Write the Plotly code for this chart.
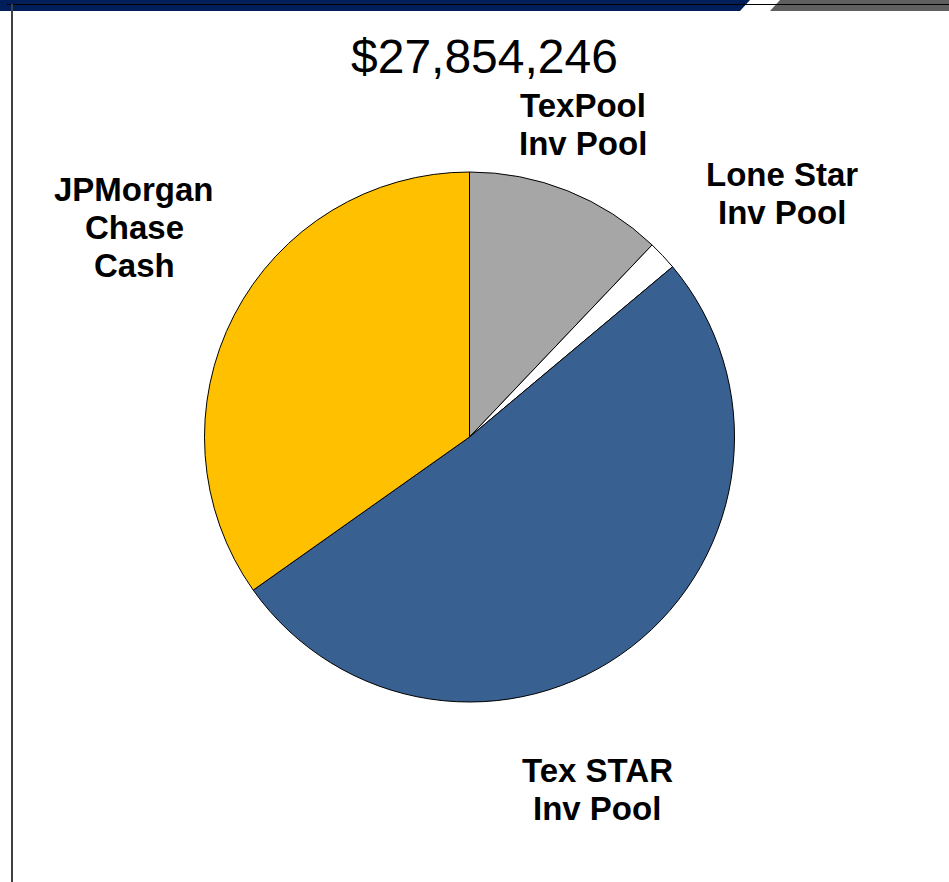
import plotly.graph_objects as go

# ---- data ----
categories = ["TexPool<br>Inv Pool", "Lone Star<br>Inv Pool", "Tex STAR<br>Inv Pool", "JPMorgan<br>Chase<br>Cash"]
amounts = [3370000, 501000, 14289000, 9694246]
slice_colors = ["#a6a6a6", "#ffffff", "#386192", "#ffc000"]

W, H = 949, 882
total = sum(amounts)
title_text = "${:,.0f}".format(total)

def px(x):
    return x / W

def py(y):
    return 1 - y / H

fig = go.Figure(go.Pie(
    labels=categories,
    values=amounts,
    sort=False,
    direction="clockwise",
    rotation=0,
    textinfo="none",
    hoverinfo="label+value+percent",
    marker=dict(colors=slice_colors, line=dict(color="#000000", width=1)),
    domain=dict(x=[px(204), px(735)], y=[py(702), py(172)]),
    showlegend=False,
))

# label positions (pixel centres of each label block) and line spacing
label_pos = [(583, 124), (782, 194), (597, 789), (134, 227)]
line_gap = 38
annotations = []
for lab, (cx, cy) in zip(categories, label_pos):
    lines = lab.split("<br>")
    n = len(lines)
    for i, ln in enumerate(lines):
        yy = cy + (i - (n - 1) / 2) * line_gap
        annotations.append(dict(
            x=px(cx), y=py(yy), xref="paper", yref="paper",
            text="<b>" + ln + "</b>", showarrow=False,
            xanchor="center", yanchor="middle",
            font=dict(family="Liberation Sans, Arial", size=33, color="#000000"),
        ))

annotations.append(dict(
    x=px(484), y=py(56), xref="paper", yref="paper",
    text=title_text, showarrow=False, xanchor="center", yanchor="middle",
    font=dict(family="Liberation Sans, Arial", size=48, color="#000000"),
))

def path(points):
    return "M " + " L ".join(f"{px(x)},{py(y)}" for x, y in points) + " Z"

shapes = [
    # navy header band
    dict(type="path", xref="paper", yref="paper",
         path=path([(0, 0), (750, 0), (740, 11), (0, 11)]),
         fillcolor="#001e5a", line=dict(width=0), layer="above"),
    # gray header band
    dict(type="path", xref="paper", yref="paper",
         path=path([(780, 0), (949, 0), (949, 11), (770, 11)]),
         fillcolor="#5f5f5f", line=dict(width=0), layer="above"),
    # thin black line across header
    dict(type="line", xref="paper", yref="paper",
         x0=px(7), x1=px(949), y0=py(4.5), y1=py(4.5),
         line=dict(color="#000000", width=1), layer="above"),
    # left vertical frame line
    dict(type="line", xref="paper", yref="paper",
         x0=px(12), x1=px(12), y0=py(4), y1=py(882),
         line=dict(color="#404040", width=2), layer="above"),
]

fig.update_layout(
    width=W, height=H,
    margin=dict(l=0, r=0, t=0, b=0),
    paper_bgcolor="#ffffff", plot_bgcolor="#ffffff",
    annotations=annotations, shapes=shapes,
)

fig.write_html(
    "out.html",
    config={"displayModeBar": False},
    post_script="document.body.style.margin='0';document.body.style.overflow='hidden';",
)
